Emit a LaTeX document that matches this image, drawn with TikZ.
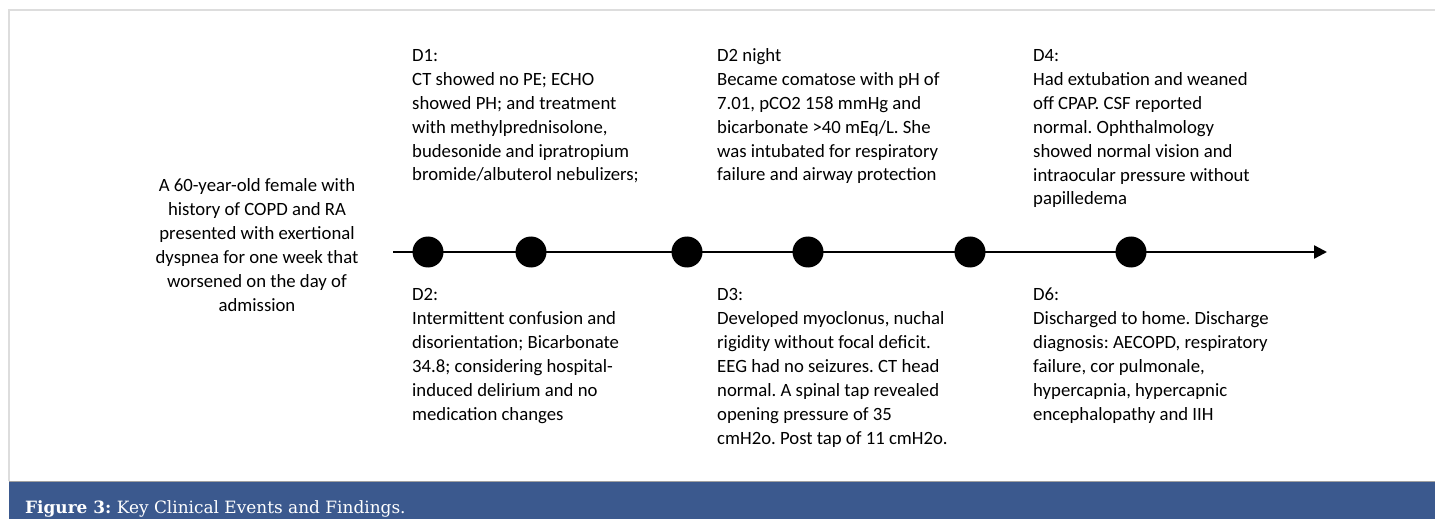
\documentclass[tikz,border=0pt]{standalone}
\usepackage{fontspec}
\setmainfont{Carlito}
\newfontfamily\capfont{DejaVu Serif}
\usetikzlibrary{arrows.meta}
\definecolor{barblue}{RGB}{59,89,142}
\definecolor{framegray}{RGB}{221,221,221}
\definecolor{bargray}{RGB}{160,160,160}
\frenchspacing
\begin{document}
\begin{tikzpicture}[x=1bp,y=-1bp,
  evt/.style={anchor=base west, align=left, inner sep=0pt, font=\fontsize{18.8}{24}\selectfont},
  intro/.style={anchor=base, align=center, inner sep=0pt, font=\fontsize{18.8}{24}\selectfont},
  dot/.style={circle, fill=black, minimum size=31bp, inner sep=0pt},
  axis/.style={line width=2.4bp, -{Triangle[length=13bp,width=13bp]}},
  captxt/.style={anchor=base west, inner sep=0pt, text=white, font=\capfont\fontsize{17}{20}\selectfont}]
\useasboundingbox (0,0) rectangle (1435,519);
% frame
\draw[framegray, line width=1.5bp] (9,481) -- (9,10) -- (1435,10);
\fill[barblue] (9,481) rectangle (1435,519);
\draw[bargray, line width=1bp] (9,481.5) -- (1435,481.5);
\node[captxt] (cap) at (25,513) {\textbf{Figure 3:} Key Clinical Events and Findings.};
% timeline
\coordinate (tstart) at (393,252);
\coordinate (tend) at (1327,252);
\draw[axis] (tstart) -- (tend);
\node[dot] (p1) at (428,252) {};
\node[dot] (p2) at (531,252) {};
\node[dot] (p3) at (687,252) {};
\node[dot] (p4) at (808,252) {};
\node[dot] (p5) at (970,252) {};
\node[dot] (p6) at (1131,252) {};
% texts (anchor = baseline of the last line)
\node[intro] (intro) at (257,311) {A 60-year-old female with\\history of COPD and RA\\presented with exertional\\dyspnea for one week that\\worsened on the day of\\admission};
\node[evt] (d1) at (412,181) {D1:\\CT showed no PE; ECHO\\showed PH; and treatment\\with methylprednisolone,\\budesonide and ipratropium\\bromide/albuterol nebulizers;};
\node[evt] (d2n) at (717,181) {D2 night\\Became comatose with pH of\\7.01, pCO2 158 mmHg and\\bicarbonate >40 mEq/L. She\\was intubated for respiratory\\failure and airway protection};
\node[evt] (d4) at (1033,205) {D4:\\Had extubation and weaned\\off CPAP. CSF reported\\normal. Ophthalmology\\showed normal vision and\\intraocular pressure without\\papilledema};
\node[evt] (d2) at (412,420) {D2:\\Intermittent confusion and\\disorientation; Bicarbonate\\34.8; considering hospital-\\induced delirium and no\\medication changes};
\node[evt] (d3) at (717,444) {D3:\\Developed myoclonus, nuchal\\rigidity without focal deficit.\\EEG had no seizures. CT head\\normal. A spinal tap revealed\\opening pressure of 35\\cmH2o. Post tap of 11 cmH2o.};
\node[evt] (d6) at (1033,420) {D6:\\Discharged to home. Discharge\\diagnosis: AECOPD, respiratory\\failure, cor pulmonale,\\hypercapnia, hypercapnic\\encephalopathy and IIH};
\end{tikzpicture}
\end{document}
